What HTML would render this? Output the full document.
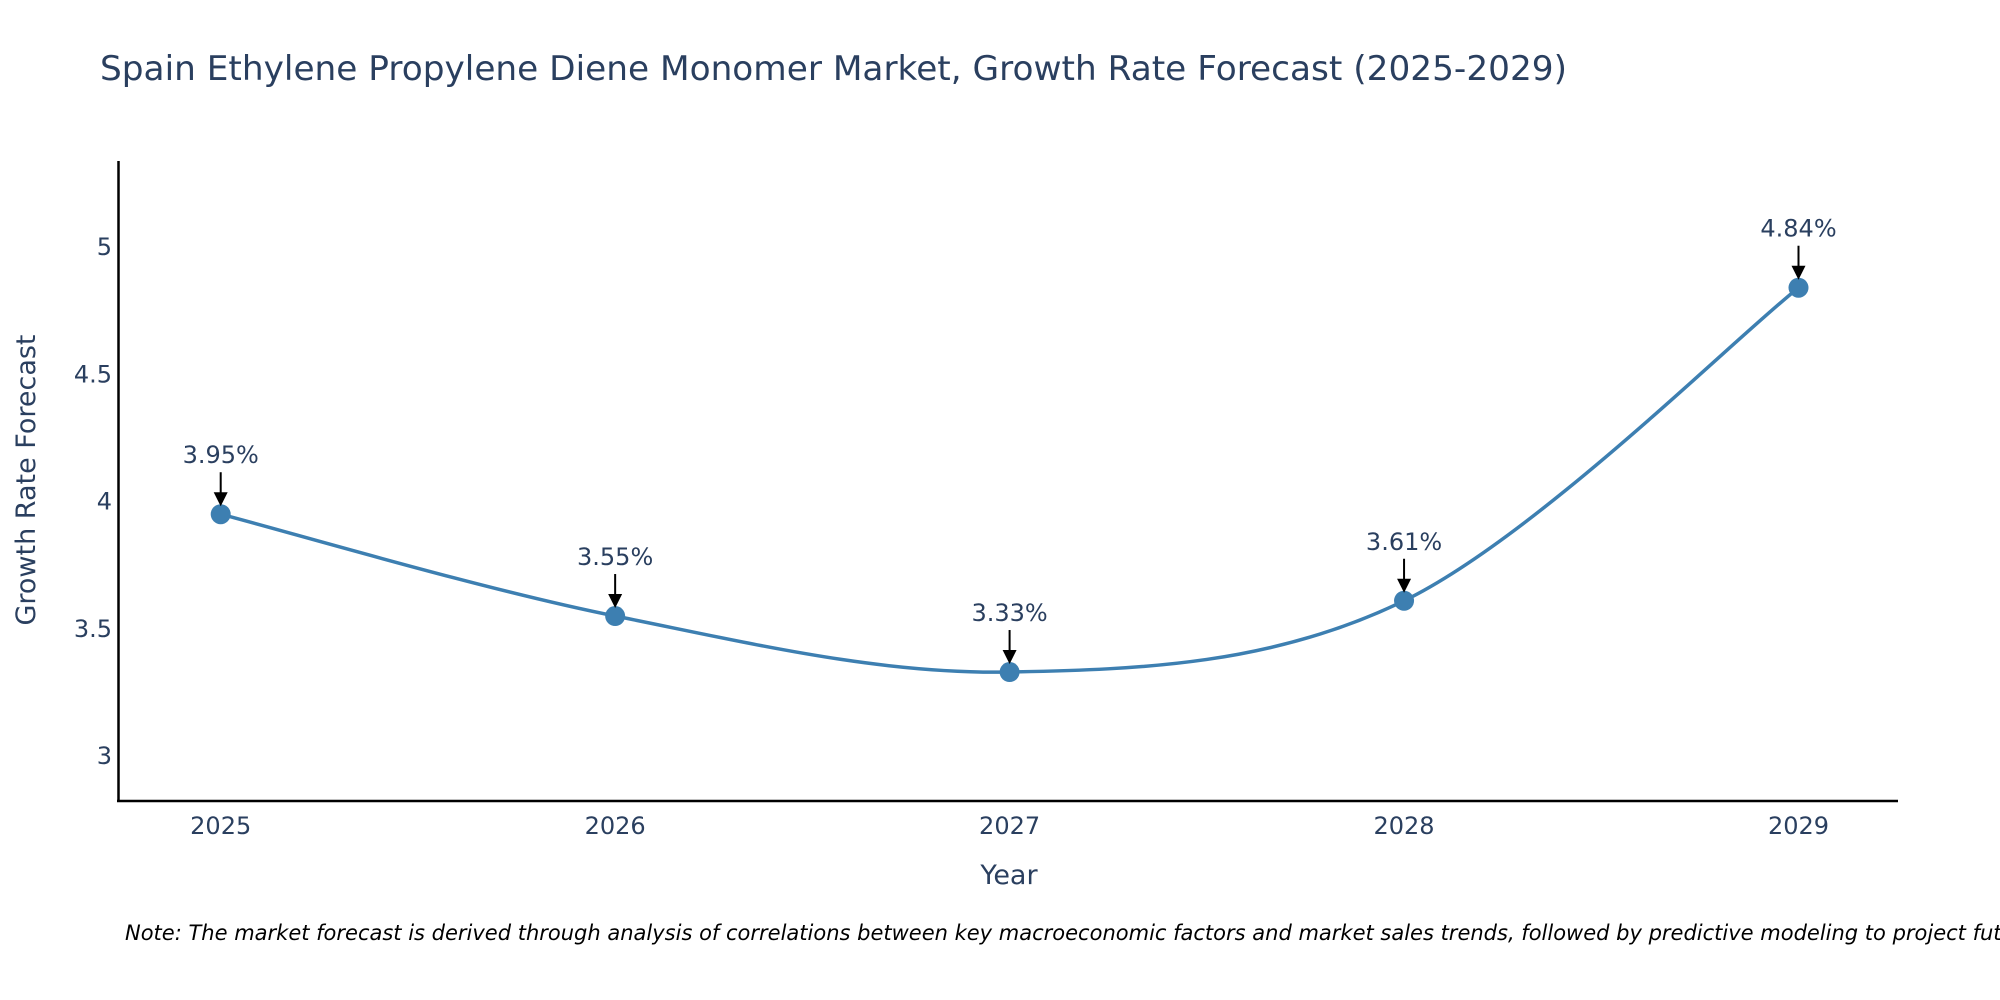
<!DOCTYPE html>
<html><head><meta charset="utf-8"><style>
html,body{margin:0;padding:0;background:#fff;overflow:hidden;}
svg{display:block;font-family:"DejaVu Sans","Liberation Sans",sans-serif;}
</style></head><body>
<svg id="chart" width="2000" height="1000" viewBox="0 0 2000 1000" xmlns="http://www.w3.org/2000/svg">
<rect width="2000" height="1000" fill="#fff"/>
<text x="100" y="80" font-size="34" fill="#2a3f5f" textLength="1467" lengthAdjust="spacingAndGlyphs">Spain Ethylene Propylene Diene Monomer Market, Growth Rate Forecast (2025-2029)</text>
<g id="yticks"></g><g id="xticks"></g>
<line x1="118.5" y1="161" x2="118.5" y2="802" stroke="#000" stroke-width="2.5"/>
<line x1="117" y1="801" x2="1898" y2="801" stroke="#000" stroke-width="2.5"/>
<text x="1009" y="884" font-size="27" fill="#2a3f5f" text-anchor="middle">Year</text>
<text transform="translate(35,480) rotate(-90)" font-size="27" fill="#2a3f5f" text-anchor="middle">Growth Rate Forecast</text>
<g id="series"></g>
<text x="125" y="940" font-size="21" font-style="italic" fill="#000">Note: The market forecast is derived through analysis of correlations between key macroeconomic factors and market sales trends, followed by predictive modeling to project future sales.</text>
</svg>
<script>
const categories = ["2025","2026","2027","2028","2029"];
const values = [3.95, 3.55, 3.33, 3.61, 4.84];
const labels = ["3.95%","3.55%","3.33%","3.61%","4.84%"];
const yTicks = [3, 3.5, 4, 4.5, 5];
const yTickLabels = ["3","3.5","4","4.5","5"];

const NS = "http://www.w3.org/2000/svg";
function xScale(i){ return 220.7 + i * (1798.5 - 220.7) / 4; }
function yScale(v){ return 756 - (v - 3) * (756 - 247) / 2; }
function mk(tag, attrs, parent){ const e=document.createElementNS(NS,tag); for(const k in attrs) e.setAttribute(k, attrs[k]); parent.appendChild(e); return e; }

const yg = document.getElementById('yticks');
yTicks.forEach((t,i)=>{
  const el = mk('text',{x:112,y:yScale(t)+8,'font-size':24,fill:'#2a3f5f','text-anchor':'end'},yg);
  
  
  el.textContent = yTickLabels[i];
});
const xg = document.getElementById('xticks');
categories.forEach((c,i)=>{
  const el = mk('text',{x:xScale(i),y:834,'font-size':24,fill:'#2a3f5f','text-anchor':'middle'},xg);
  
  
  el.textContent = c;
});

const sg = document.getElementById('series');
const pts = values.map((v,i)=>[xScale(i), yScale(v)]);
let d = `M${pts[0][0]},${pts[0][1]}`;
for(let i=0;i<pts.length-1;i++){
  const p0=pts[Math.max(0,i-1)], p1=pts[i], p2=pts[i+1], p3=pts[Math.min(pts.length-1,i+2)];
  const c1=[p1[0]+(p2[0]-p0[0])/6, p1[1]+(p2[1]-p0[1])/6];
  const c2=[p2[0]-(p3[0]-p1[0])/6, p2[1]-(p3[1]-p1[1])/6];
  d += ` C${c1[0]},${c1[1]} ${c2[0]},${c2[1]} ${p2[0]},${p2[1]}`;
}
const line = mk('path',{d:d,fill:'none',stroke:'#3d7fb1','stroke-width':3.5},sg);



pts.forEach((p,i)=>{
  const c = mk('circle',{cx:p[0],cy:p[1],r:10,fill:'#3d7fb1'},sg);
  
  
  const a = mk('line',{x1:p[0],y1:p[1]-42,x2:p[0],y2:p[1]-20,stroke:'#000','stroke-width':2},sg);
  
  
  const h = mk('polygon',{points:`${p[0]-7},${p[1]-22} ${p[0]+7},${p[1]-22} ${p[0]},${p[1]-8}`,fill:'#000'},sg);
  
  
  const t = mk('text',{x:p[0],y:p[1]-51,'font-size':24,fill:'#2a3f5f','text-anchor':'middle'},sg);
  
  
  t.textContent = labels[i];
});
</script>
</body></html>
